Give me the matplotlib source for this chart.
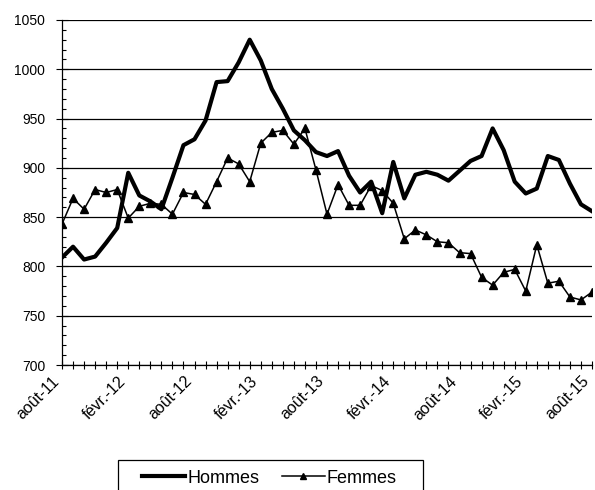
import matplotlib
matplotlib.use('Agg')
import matplotlib.pyplot as plt
import matplotlib.transforms as mtransforms
import numpy as np
from matplotlib.ticker import MultipleLocator
from matplotlib.patches import Rectangle

plt.rcParams['font.family'] = ['Liberation Sans', 'DejaVu Sans']
plt.rcParams['font.size'] = 10

# monthly values, août-11 .. août-15
hommes = [809, 820, 807, 810, 824, 839, 895, 872, 866, 858,
          890, 923, 929, 948, 987, 988, 1007, 1030, 1009, 980,
          960, 938, 928, 916, 912, 917, 892, 875, 886, 854,
          906, 869, 893, 896, 893, 887, 897, 907, 912, 940,
          918, 886, 874, 879, 912, 908, 884, 863, 856]
femmes = [843, 869, 858, 878, 875, 878, 849, 861, 864, 863,
          853, 875, 873, 863, 886, 910, 904, 886, 925, 936,
          938, 924, 940, 898, 853, 883, 862, 862, 882, 877,
          864, 828, 837, 832, 825, 824, 814, 813, 789, 781,
          794, 797, 775, 822, 783, 785, 769, 766, 774]
tick_labels = ['août-11', 'févr.-12', 'août-12', 'févr.-13', 'août-13',
               'févr.-14', 'août-14', 'févr.-15', 'août-15']

x = np.arange(len(hommes))

fig = plt.figure(figsize=(5.95, 4.9), dpi=100)
ax = fig.add_axes([62 / 595, 1 - 365 / 490, 530 / 595, 345 / 490])

ax.plot(x, hommes, color='black', lw=3.0, label='Hommes')
ax.plot(x, femmes, color='black', lw=1.1, marker='^', markersize=6,
        label='Femmes')

ax.set_xlim(0, len(hommes) - 1)
ax.set_ylim(700, 1050)
ax.yaxis.set_major_locator(MultipleLocator(50))
ax.yaxis.set_minor_locator(MultipleLocator(10))
ax.grid(axis='y', which='major', color='black', lw=0.9)
ax.set_axisbelow(True)

ax.set_xticks(x, minor=True)
ax.set_xticks(x[::6])
ax.set_xticklabels([])
# rotated date labels, anchored on their baseline so the last one stays inside
trans = ax.get_xaxis_transform() + mtransforms.ScaledTranslation(
    -2 / 100, -17 / 100, fig.dpi_scale_trans)
for xi, lab in zip(x[::6], tick_labels):
    ax.text(xi, 0, lab, transform=trans, rotation=45, ha='right', va='baseline',
            rotation_mode='anchor', fontsize=11.5)

ax.tick_params(axis='x', which='both', direction='inout', length=6, width=0.8)
ax.tick_params(axis='y', which='major', direction='inout', length=8, width=0.8, pad=8)
ax.tick_params(axis='y', which='minor', direction='in', length=3, width=0.8)

for s in ['top', 'right']:
    ax.spines[s].set_visible(False)
for s in ['left', 'bottom']:
    ax.spines[s].set_linewidth(0.9)

# legend box runs off the bottom edge, as in the original
fig.patches.append(Rectangle((118 / 595, -0.05), (423 - 118) / 595,
                             0.05 + 1 - 460 / 490, transform=fig.transFigure,
                             fill=False, edgecolor='black', lw=0.9))
leg = fig.legend(loc='center left', bbox_to_anchor=(142 / 595, 1 - 478 / 490),
                 ncol=2, frameon=False, handlelength=2.4, columnspacing=1.25,
                 handletextpad=0.1, borderpad=0, borderaxespad=0, fontsize=13,
                 markerscale=0.8)

fig.savefig('out.png', dpi=100)
